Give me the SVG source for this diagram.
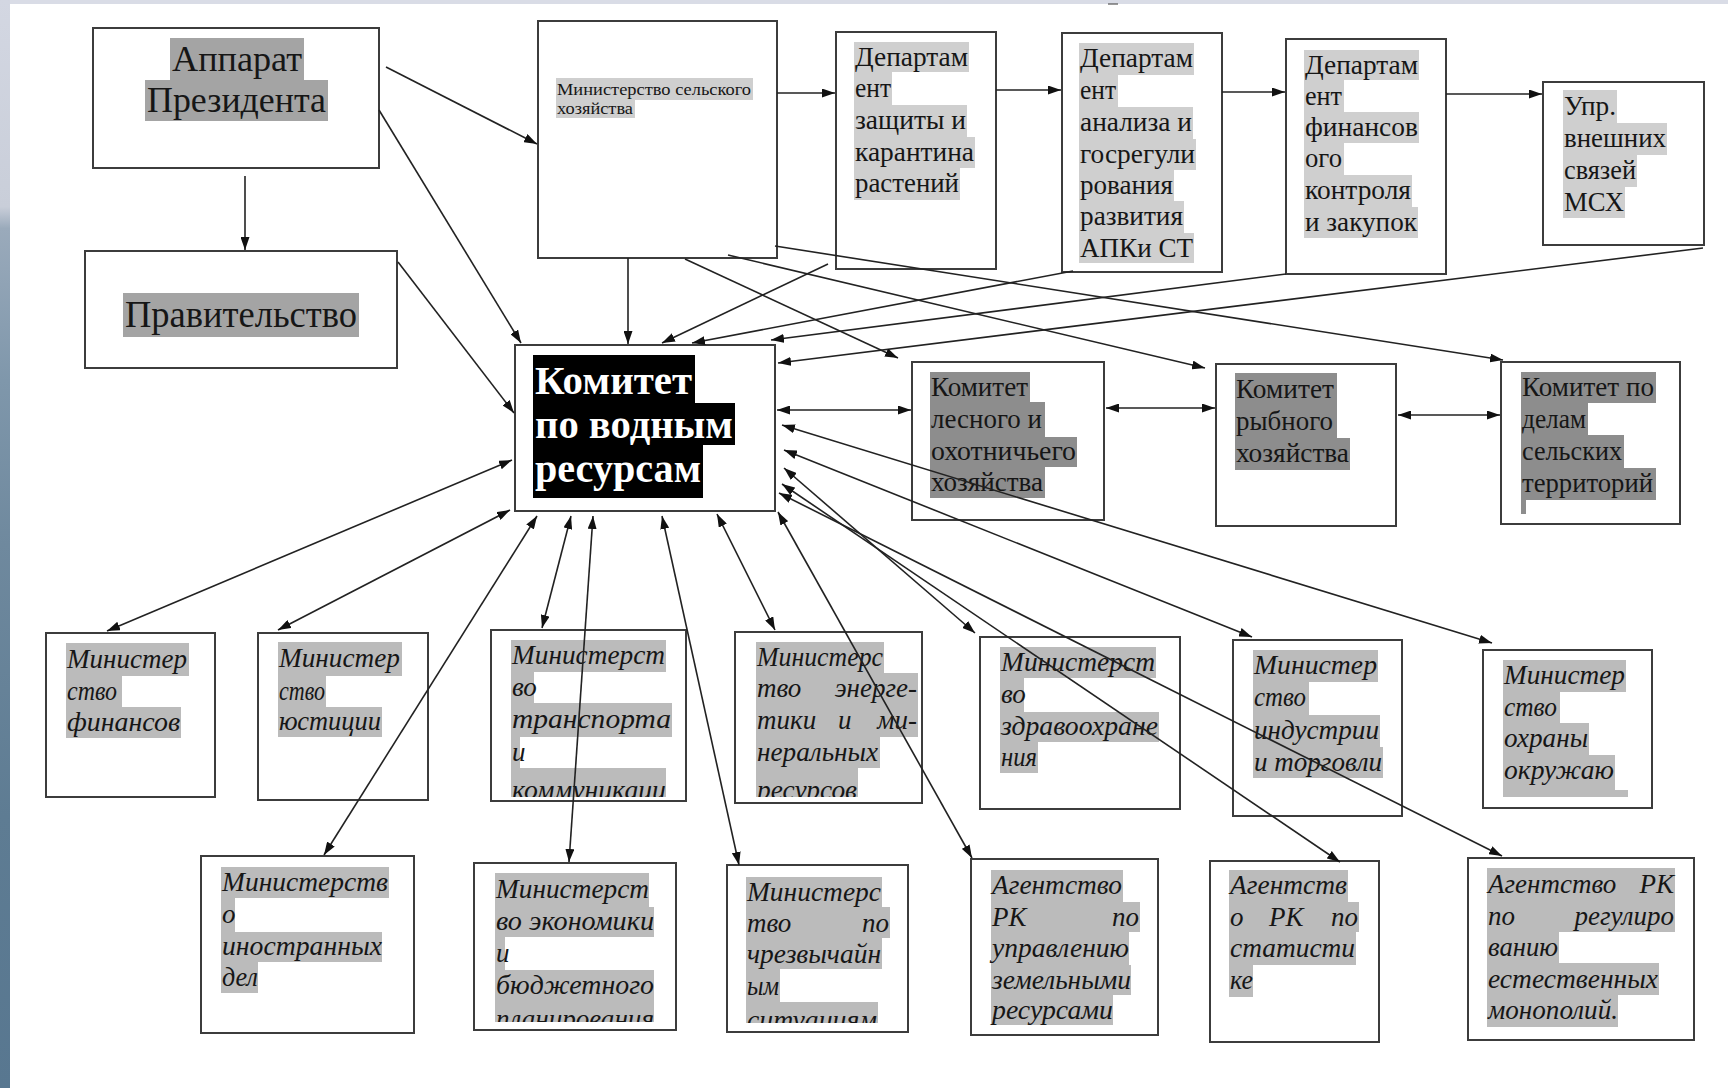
<svg xmlns="http://www.w3.org/2000/svg" width="1728" height="1088" viewBox="0 0 1728 1088">
<defs>
<linearGradient id="sea" x1="0" y1="0" x2="0" y2="1">
<stop offset="0" stop-color="#d3d7e2"/>
<stop offset="0.19" stop-color="#c9ced9"/>
<stop offset="0.21" stop-color="#9aaabb"/>
<stop offset="0.35" stop-color="#7f97ab"/>
<stop offset="0.5" stop-color="#6f899e"/>
<stop offset="0.75" stop-color="#5e7c93"/>
<stop offset="1" stop-color="#587790"/>
</linearGradient>
<marker id="ah" viewBox="0 0 13 9" refX="13" refY="4.5" markerWidth="13" markerHeight="9" markerUnits="userSpaceOnUse" orient="auto-start-reverse"><path d="M0,0 L13,4.5 L0,9 Z" fill="#111"/></marker>
<clipPath id="cTrans"><rect x="491" y="630" width="195" height="167"/></clipPath>
<clipPath id="cEnerg"><rect x="735" y="632" width="187" height="165"/></clipPath>
<clipPath id="cEkon"><rect x="474" y="863" width="202" height="159"/></clipPath>
<clipPath id="cChs"><rect x="727" y="865" width="181" height="158"/></clipPath>
</defs>
<style>
.box{fill:#fff;stroke:#3c3c3c;stroke-width:2}
.ln{fill:none;stroke:#222;stroke-width:1.6}
.one{marker-end:url(#ah)}
.two{marker-start:url(#ah);marker-end:url(#ah)}
.t{font-family:"Liberation Serif","Times New Roman",serif;fill:#161616}
.r27{font-size:27px}
.r28{font-size:28px}
.i{font-style:italic;font-size:27px}
.h1{fill:#a4a4a4}
.h2{fill:#cfcfcf}
.h3{fill:#8d8d8d}
.h4{fill:#bbbbbb}
.kw{font-weight:bold;font-size:40px;fill:#fff}
</style>
<rect x="0" y="0" width="1728" height="1088" fill="#fff"/>
<rect x="0" y="0" width="1728" height="4" fill="#d9dce6"/>
<rect x="0" y="0" width="10" height="1088" fill="url(#sea)"/>
<line x1="1108" y1="4" x2="1118" y2="4" stroke="#555" stroke-width="1.2"/>

<g id="apparat">
<rect class="box" x="93" y="28" width="286" height="140"/>
<rect class="h1" x="170" y="38" width="134" height="42"/>
<rect class="h1" x="145" y="80" width="183" height="41"/>
<text class="t" font-size="36" x="172" y="71" textLength="130" lengthAdjust="spacingAndGlyphs">Аппарат</text>
<text class="t" font-size="36" x="147" y="112" textLength="179" lengthAdjust="spacingAndGlyphs">Президента</text>
</g>

<g id="pravitelstvo">
<rect class="box" x="85" y="251" width="312" height="117"/>
<rect class="h1" x="123" y="293" width="236" height="44"/>
<text class="t" font-size="38" x="125" y="327" textLength="232" lengthAdjust="spacingAndGlyphs">Правительство</text>
</g>

<g id="minselhoz">
<rect class="box" x="538" y="21" width="239" height="237"/>
<rect class="h2" x="556" y="78" width="197" height="22"/>
<rect class="h2" x="556" y="100" width="79" height="18"/>
<text class="t" font-size="17" x="557" y="95" textLength="194" lengthAdjust="spacingAndGlyphs">Министерство сельского</text>
<text class="t" font-size="17" x="557" y="114" textLength="76" lengthAdjust="spacingAndGlyphs">хозяйства</text>
</g>

<g id="dep-zashchity">
<rect class="box" x="836" y="32" width="160" height="237"/>
<rect class="h2" x="854" y="42" width="115" height="30"/>
<rect class="h2" x="854" y="72" width="38" height="33"/>
<rect class="h2" x="854" y="105" width="113" height="32"/>
<rect class="h2" x="854" y="137" width="121" height="31"/>
<rect class="h2" x="854" y="168" width="106" height="32"/>
<text class="t r27" x="855" y="66" textLength="113" lengthAdjust="spacingAndGlyphs">Департам</text>
<text class="t r27" x="855" y="97" textLength="36" lengthAdjust="spacingAndGlyphs">ент</text>
<text class="t r27" x="855" y="129" textLength="111" lengthAdjust="spacingAndGlyphs">защиты и</text>
<text class="t r27" x="855" y="161" textLength="119" lengthAdjust="spacingAndGlyphs">карантина</text>
<text class="t r27" x="855" y="192" textLength="104" lengthAdjust="spacingAndGlyphs">растений</text>
</g>

<g id="dep-analiza">
<rect class="box" x="1062" y="33" width="160" height="239"/>
<rect class="h2" x="1079" y="43" width="115" height="32"/>
<rect class="h2" x="1079" y="75" width="39" height="32"/>
<rect class="h2" x="1079" y="107" width="114" height="32"/>
<rect class="h2" x="1079" y="139" width="117" height="31"/>
<rect class="h2" x="1079" y="170" width="95" height="31"/>
<rect class="h2" x="1079" y="201" width="105" height="32"/>
<rect class="h2" x="1079" y="233" width="115" height="30"/>
<text class="t r27" x="1080" y="67" textLength="113" lengthAdjust="spacingAndGlyphs">Департам</text>
<text class="t r27" x="1080" y="99" textLength="36" lengthAdjust="spacingAndGlyphs">ент</text>
<text class="t r27" x="1080" y="131" textLength="112" lengthAdjust="spacingAndGlyphs">анализа и</text>
<text class="t r27" x="1080" y="163" textLength="115" lengthAdjust="spacingAndGlyphs">госрегули</text>
<text class="t r27" x="1080" y="194" textLength="93" lengthAdjust="spacingAndGlyphs">рования</text>
<text class="t r27" x="1080" y="225" textLength="103" lengthAdjust="spacingAndGlyphs">развития</text>
<text class="t r27" x="1080" y="257" textLength="113" lengthAdjust="spacingAndGlyphs">АПКи СТ</text>
</g>

<g id="dep-finansov">
<rect class="box" x="1286" y="39" width="160" height="235"/>
<rect class="h2" x="1304" y="50" width="115" height="30"/>
<rect class="h2" x="1304" y="80" width="40" height="32"/>
<rect class="h2" x="1304" y="112" width="115" height="31"/>
<rect class="h2" x="1304" y="143" width="40" height="32"/>
<rect class="h2" x="1304" y="175" width="108" height="32"/>
<rect class="h2" x="1304" y="207" width="114" height="31"/>
<text class="t r27" x="1305" y="74" textLength="113" lengthAdjust="spacingAndGlyphs">Департам</text>
<text class="t r27" x="1305" y="105" textLength="37" lengthAdjust="spacingAndGlyphs">ент</text>
<text class="t r27" x="1305" y="136" textLength="113" lengthAdjust="spacingAndGlyphs">финансов</text>
<text class="t r27" x="1305" y="167" textLength="37" lengthAdjust="spacingAndGlyphs">ого</text>
<text class="t r27" x="1305" y="199" textLength="106" lengthAdjust="spacingAndGlyphs">контроля</text>
<text class="t r27" x="1305" y="231" textLength="112" lengthAdjust="spacingAndGlyphs">и закупок</text>
</g>

<g id="upr-vneshnih">
<rect class="box" x="1543" y="82" width="161" height="163"/>
<rect class="h2" x="1563" y="90" width="54" height="33"/>
<rect class="h2" x="1563" y="123" width="104" height="32"/>
<rect class="h2" x="1563" y="155" width="74" height="32"/>
<rect class="h2" x="1563" y="187" width="62" height="31"/>
<text class="t r27" x="1564" y="115" textLength="52" lengthAdjust="spacingAndGlyphs">Упр.</text>
<text class="t r27" x="1564" y="147" textLength="102" lengthAdjust="spacingAndGlyphs">внешних</text>
<text class="t r27" x="1564" y="179" textLength="72" lengthAdjust="spacingAndGlyphs">связей</text>
<text class="t r27" x="1564" y="211" textLength="60" lengthAdjust="spacingAndGlyphs">МСХ</text>
</g>

<g id="komitet-vodnyh">
<rect class="box" x="515" y="345" width="260" height="166"/>
<path d="M533,355 H695 V403 H735 V445 H703 V498 H533 Z" fill="#000"/>
<text class="t kw" x="535" y="394" textLength="157" lengthAdjust="spacingAndGlyphs">Комитет</text>
<text class="t kw" x="535" y="438" textLength="198" lengthAdjust="spacingAndGlyphs">по водным</text>
<text class="t kw" x="535" y="482" textLength="166" lengthAdjust="spacingAndGlyphs">ресурсам</text>
</g>

<g id="komitet-lesnogo">
<rect class="box" x="912" y="362" width="192" height="158"/>
<rect class="h3" x="930" y="372" width="100" height="30"/>
<rect class="h3" x="930" y="402" width="115" height="35"/>
<rect class="h3" x="930" y="437" width="147" height="30"/>
<rect class="h3" x="930" y="467" width="115" height="31"/>
<text class="t r28" x="931" y="396" textLength="97" lengthAdjust="spacingAndGlyphs">Комитет</text>
<text class="t r28" x="931" y="428" textLength="111" lengthAdjust="spacingAndGlyphs">лесного и</text>
<text class="t r28" x="931" y="460" textLength="145" lengthAdjust="spacingAndGlyphs">охотничьего</text>
<text class="t r28" x="931" y="491" textLength="112" lengthAdjust="spacingAndGlyphs">хозяйства</text>
</g>

<g id="komitet-rybnogo">
<rect class="box" x="1216" y="364" width="180" height="162"/>
<rect class="h3" x="1235" y="373" width="102" height="32"/>
<rect class="h3" x="1235" y="405" width="102" height="33"/>
<rect class="h3" x="1235" y="438" width="115" height="32"/>
<text class="t r28" x="1236" y="398" textLength="98" lengthAdjust="spacingAndGlyphs">Комитет</text>
<text class="t r28" x="1236" y="430" textLength="97" lengthAdjust="spacingAndGlyphs">рыбного</text>
<text class="t r28" x="1236" y="462" textLength="113" lengthAdjust="spacingAndGlyphs">хозяйства</text>
</g>

<g id="komitet-selskih">
<rect class="box" x="1501" y="362" width="179" height="162"/>
<rect class="h3" x="1521" y="372" width="135" height="31"/>
<rect class="h3" x="1521" y="403" width="67" height="32"/>
<rect class="h3" x="1521" y="435" width="103" height="33"/>
<rect class="h3" x="1521" y="468" width="135" height="32"/>
<rect class="h3" x="1521" y="500" width="5" height="14"/>
<text class="t r28" x="1522" y="396" textLength="132" lengthAdjust="spacingAndGlyphs">Комитет по</text>
<text class="t r28" x="1522" y="428" textLength="64" lengthAdjust="spacingAndGlyphs">делам</text>
<text class="t r28" x="1522" y="460" textLength="100" lengthAdjust="spacingAndGlyphs">сельских</text>
<text class="t r28" x="1522" y="492" textLength="131" lengthAdjust="spacingAndGlyphs">территорий</text>
</g>

<g id="minfin">
<rect class="box" x="46" y="633" width="169" height="164"/>
<rect class="h4" x="66" y="643" width="123" height="33"/>
<rect class="h4" x="66" y="676" width="56" height="31"/>
<rect class="h4" x="66" y="707" width="115" height="31"/>
<text class="t i" x="67" y="668" textLength="120" lengthAdjust="spacingAndGlyphs">Министер</text>
<text class="t i" x="67" y="700" textLength="50" lengthAdjust="spacingAndGlyphs">ство</text>
<text class="t i" x="67" y="731" textLength="113" lengthAdjust="spacingAndGlyphs">финансов</text>
</g>

<g id="minjust">
<rect class="box" x="258" y="633" width="170" height="167"/>
<rect class="h4" x="278" y="642" width="124" height="34"/>
<rect class="h4" x="278" y="676" width="48" height="31"/>
<rect class="h4" x="278" y="707" width="104" height="30"/>
<text class="t i" x="279" y="667" textLength="121" lengthAdjust="spacingAndGlyphs">Министер</text>
<text class="t i" x="279" y="700" textLength="46" lengthAdjust="spacingAndGlyphs">ство</text>
<text class="t i" x="279" y="730" textLength="102" lengthAdjust="spacingAndGlyphs">юстиции</text>
</g>

<g id="mintrans">
<rect class="box" x="491" y="630" width="195" height="171"/>
<g clip-path="url(#cTrans)">
<rect class="h4" x="511" y="640" width="155" height="32"/>
<rect class="h4" x="511" y="672" width="23" height="31"/>
<rect class="h4" x="511" y="703" width="161" height="34"/>
<rect class="h4" x="511" y="737" width="9" height="31"/>
<rect class="h4" x="511" y="768" width="155" height="29"/>
<text class="t i" x="512" y="664" textLength="153" lengthAdjust="spacingAndGlyphs">Министерст</text>
<text class="t i" x="512" y="696">во</text>
<text class="t i" x="512" y="728" textLength="159" lengthAdjust="spacingAndGlyphs">транспорта</text>
<text class="t i" x="512" y="761">и</text>
<text class="t i" x="512" y="799" textLength="154" lengthAdjust="spacingAndGlyphs">коммуникаци</text>
</g>
</g>

<g id="minenergo">
<rect class="box" x="735" y="632" width="187" height="171"/>
<g clip-path="url(#cEnerg)">
<rect class="h4" x="756" y="642" width="128" height="31"/>
<rect class="h4" x="756" y="673" width="162" height="32"/>
<rect class="h4" x="756" y="705" width="162" height="32"/>
<rect class="h4" x="756" y="737" width="124" height="31"/>
<rect class="h4" x="756" y="768" width="102" height="29"/>
<text class="t i" x="757" y="666" textLength="126" lengthAdjust="spacingAndGlyphs">Министерс</text>
<text class="t i"><tspan x="757" y="697">тво</tspan><tspan x="917" y="697" text-anchor="end">энерге-</tspan></text>
<text class="t i"><tspan x="757" y="729">тики</tspan><tspan x="838" y="729">и</tspan><tspan x="917" y="729" text-anchor="end">ми-</tspan></text>
<text class="t i" x="757" y="761" textLength="121" lengthAdjust="spacingAndGlyphs">неральных</text>
<text class="t i" x="757" y="799" textLength="100" lengthAdjust="spacingAndGlyphs">ресурсов</text>
</g>
</g>

<g id="minzdrav">
<rect class="box" x="980" y="637" width="200" height="172"/>
<rect class="h4" x="1000" y="647" width="156" height="31"/>
<rect class="h4" x="1000" y="678" width="24" height="34"/>
<rect class="h4" x="1000" y="712" width="159" height="30"/>
<rect class="h4" x="1000" y="742" width="38" height="31"/>
<text class="t i" x="1001" y="671" textLength="154" lengthAdjust="spacingAndGlyphs">Министерст</text>
<text class="t i" x="1001" y="703">во</text>
<text class="t i" x="1001" y="735" textLength="157" lengthAdjust="spacingAndGlyphs">здравоохране</text>
<text class="t i" x="1001" y="766" textLength="36" lengthAdjust="spacingAndGlyphs">ния</text>
</g>

<g id="minindustrii">
<rect class="box" x="1233" y="640" width="169" height="176"/>
<rect class="h4" x="1253" y="650" width="125" height="32"/>
<rect class="h4" x="1253" y="682" width="56" height="33"/>
<rect class="h4" x="1253" y="715" width="127" height="32"/>
<rect class="h4" x="1253" y="747" width="130" height="31"/>
<text class="t i" x="1254" y="674" textLength="123" lengthAdjust="spacingAndGlyphs">Министер</text>
<text class="t i" x="1254" y="706" textLength="52" lengthAdjust="spacingAndGlyphs">ство</text>
<text class="t i" x="1254" y="739" textLength="125" lengthAdjust="spacingAndGlyphs">индустрии</text>
<text class="t i" x="1254" y="771" textLength="128" lengthAdjust="spacingAndGlyphs">и торговли</text>
</g>

<g id="minohrany">
<rect class="box" x="1483" y="650" width="169" height="158"/>
<rect class="h4" x="1503" y="660" width="123" height="32"/>
<rect class="h4" x="1503" y="692" width="57" height="31"/>
<rect class="h4" x="1503" y="723" width="86" height="32"/>
<rect class="h4" x="1503" y="755" width="112" height="35"/>
<rect class="h4" x="1503" y="790" width="125" height="7"/>
<text class="t i" x="1504" y="684" textLength="121" lengthAdjust="spacingAndGlyphs">Министер</text>
<text class="t i" x="1504" y="716" textLength="53" lengthAdjust="spacingAndGlyphs">ство</text>
<text class="t i" x="1504" y="747" textLength="84" lengthAdjust="spacingAndGlyphs">охраны</text>
<text class="t i" x="1504" y="779" textLength="110" lengthAdjust="spacingAndGlyphs">окружаю</text>
</g>

<g id="mid">
<rect class="box" x="201" y="856" width="213" height="177"/>
<rect class="h4" x="221" y="867" width="168" height="31"/>
<rect class="h4" x="221" y="898" width="14" height="34"/>
<rect class="h4" x="221" y="932" width="161" height="30"/>
<rect class="h4" x="221" y="962" width="37" height="31"/>
<text class="t i" x="222" y="891" textLength="166" lengthAdjust="spacingAndGlyphs">Министерств</text>
<text class="t i" x="222" y="923">о</text>
<text class="t i" x="222" y="955" textLength="160" lengthAdjust="spacingAndGlyphs">иностранных</text>
<text class="t i" x="222" y="986" textLength="36" lengthAdjust="spacingAndGlyphs">дел</text>
</g>

<g id="minekonomiki">
<rect class="box" x="474" y="863" width="202" height="167"/>
<g clip-path="url(#cEkon)">
<rect class="h4" x="495" y="873" width="154" height="34"/>
<rect class="h4" x="495" y="907" width="159" height="30"/>
<rect class="h4" x="495" y="937" width="10" height="33"/>
<rect class="h4" x="495" y="970" width="159" height="32"/>
<rect class="h4" x="495" y="1002" width="159" height="20"/>
<text class="t i" x="496" y="898" textLength="153" lengthAdjust="spacingAndGlyphs">Министерст</text>
<text class="t i" x="496" y="930" textLength="158" lengthAdjust="spacingAndGlyphs">во экономики</text>
<text class="t i" x="496" y="962">и</text>
<text class="t i" x="496" y="994" textLength="158" lengthAdjust="spacingAndGlyphs">бюджетного</text>
<text class="t i" x="496" y="1028" textLength="158" lengthAdjust="spacingAndGlyphs">планирования</text>
</g>
</g>

<g id="minchs">
<rect class="box" x="727" y="865" width="181" height="167"/>
<g clip-path="url(#cChs)">
<rect class="h4" x="746" y="877" width="136" height="30"/>
<rect class="h4" x="746" y="907" width="144" height="31"/>
<rect class="h4" x="746" y="938" width="136" height="31"/>
<rect class="h4" x="746" y="969" width="34" height="33"/>
<rect class="h4" x="746" y="1002" width="132" height="21"/>
<text class="t i" x="747" y="901" textLength="134" lengthAdjust="spacingAndGlyphs">Министерс</text>
<text class="t i"><tspan x="747" y="932">тво</tspan><tspan x="889" y="932" text-anchor="end">по</tspan></text>
<text class="t i" x="747" y="963" textLength="134" lengthAdjust="spacingAndGlyphs">чрезвычайн</text>
<text class="t i" x="747" y="995" textLength="32" lengthAdjust="spacingAndGlyphs">ым</text>
<text class="t i" x="747" y="1029" textLength="130" lengthAdjust="spacingAndGlyphs">ситуациям</text>
</g>
</g>

<g id="ag-zemel">
<rect class="box" x="971" y="859" width="187" height="176"/>
<rect class="h4" x="991" y="870" width="132" height="32"/>
<rect class="h4" x="991" y="902" width="149" height="30"/>
<rect class="h4" x="991" y="932" width="138" height="33"/>
<rect class="h4" x="991" y="965" width="140" height="30"/>
<rect class="h4" x="991" y="995" width="122" height="30"/>
<text class="t i" x="992" y="894" textLength="130" lengthAdjust="spacingAndGlyphs">Агентство</text>
<text class="t i"><tspan x="992" y="926">РК</tspan><tspan x="1139" y="926" text-anchor="end">по</tspan></text>
<text class="t i" x="992" y="957" textLength="137" lengthAdjust="spacingAndGlyphs">управлению</text>
<text class="t i" x="992" y="989" textLength="139" lengthAdjust="spacingAndGlyphs">земельными</text>
<text class="t i" x="992" y="1019" textLength="121" lengthAdjust="spacingAndGlyphs">ресурсами</text>
</g>

<g id="ag-stat">
<rect class="box" x="1210" y="861" width="169" height="181"/>
<rect class="h4" x="1229" y="870" width="119" height="32"/>
<rect class="h4" x="1229" y="902" width="130" height="30"/>
<rect class="h4" x="1229" y="932" width="127" height="33"/>
<rect class="h4" x="1229" y="965" width="24" height="32"/>
<text class="t i" x="1230" y="894" textLength="117" lengthAdjust="spacingAndGlyphs">Агентств</text>
<text class="t i"><tspan x="1230" y="926">о</tspan><tspan x="1269" y="926">РК</tspan><tspan x="1358" y="926" text-anchor="end">по</tspan></text>
<text class="t i" x="1230" y="957" textLength="125" lengthAdjust="spacingAndGlyphs">статисти</text>
<text class="t i" x="1230" y="989" textLength="23" lengthAdjust="spacingAndGlyphs">ке</text>
</g>

<g id="ag-monopoliy">
<rect class="box" x="1468" y="858" width="226" height="182"/>
<rect class="h4" x="1487" y="868" width="188" height="34"/>
<rect class="h4" x="1487" y="902" width="188" height="30"/>
<rect class="h4" x="1487" y="932" width="72" height="31"/>
<rect class="h4" x="1487" y="963" width="172" height="32"/>
<rect class="h4" x="1487" y="995" width="131" height="32"/>
<text class="t i"><tspan x="1488" y="893">Агентство</tspan><tspan x="1674" y="893" text-anchor="end">РК</tspan></text>
<text class="t i"><tspan x="1488" y="925">по</tspan><tspan x="1674" y="925" text-anchor="end">регулиро</tspan></text>
<text class="t i" x="1488" y="956" textLength="70" lengthAdjust="spacingAndGlyphs">ванию</text>
<text class="t i" x="1488" y="988" textLength="170" lengthAdjust="spacingAndGlyphs">естественных</text>
<text class="t i" x="1488" y="1019" textLength="130" lengthAdjust="spacingAndGlyphs">монополий.</text>
</g>

<g id="connectors">
<path class="ln one" d="M245,176 L245,250"/>
<path class="ln one" d="M386,67 L537,144"/>
<path class="ln one" d="M379,110 L521,343"/>
<path class="ln one" d="M398,262 L514,413"/>
<path class="ln one" d="M777,93 L835,93"/>
<path class="ln one" d="M996,90 L1061,90"/>
<path class="ln one" d="M1222,92 L1285,92"/>
<path class="ln one" d="M1446,94 L1542,94"/>
<path class="ln one" d="M628,258 L628,344"/>
<path class="ln one" d="M828,264 L662,343"/>
<path class="ln one" d="M1073,271 L692,343"/>
<path class="ln one" d="M1286,274 L771,340"/>
<path class="ln one" d="M1703,248 L778,363"/>
<path class="ln one" d="M685,259 L898,358"/>
<path class="ln one" d="M728,255 L1205,368"/>
<path class="ln one" d="M775,246 L1503,360"/>
<path class="ln two" d="M777,410 L911,410"/>
<path class="ln two" d="M1106,408 L1215,408"/>
<path class="ln two" d="M1398,415 L1500,415"/>
<path class="ln two" d="M512,460 L107,631"/>
<path class="ln two" d="M510,510 L278,630"/>
<path class="ln two" d="M537,516 L324,855"/>
<path class="ln two" d="M571,516 L542,628"/>
<path class="ln two" d="M593,516 L569,862"/>
<path class="ln two" d="M662,516 L739,865"/>
<path class="ln two" d="M717,514 L775,630"/>
<path class="ln two" d="M778,512 L972,858"/>
<path class="ln two" d="M782,425 L1492,643"/>
<path class="ln two" d="M784,450 L1252,637"/>
<path class="ln two" d="M784,468 L975,633"/>
<path class="ln two" d="M782,484 L1340,862"/>
<path class="ln two" d="M779,493 L1502,856"/>
</g>
</svg>
